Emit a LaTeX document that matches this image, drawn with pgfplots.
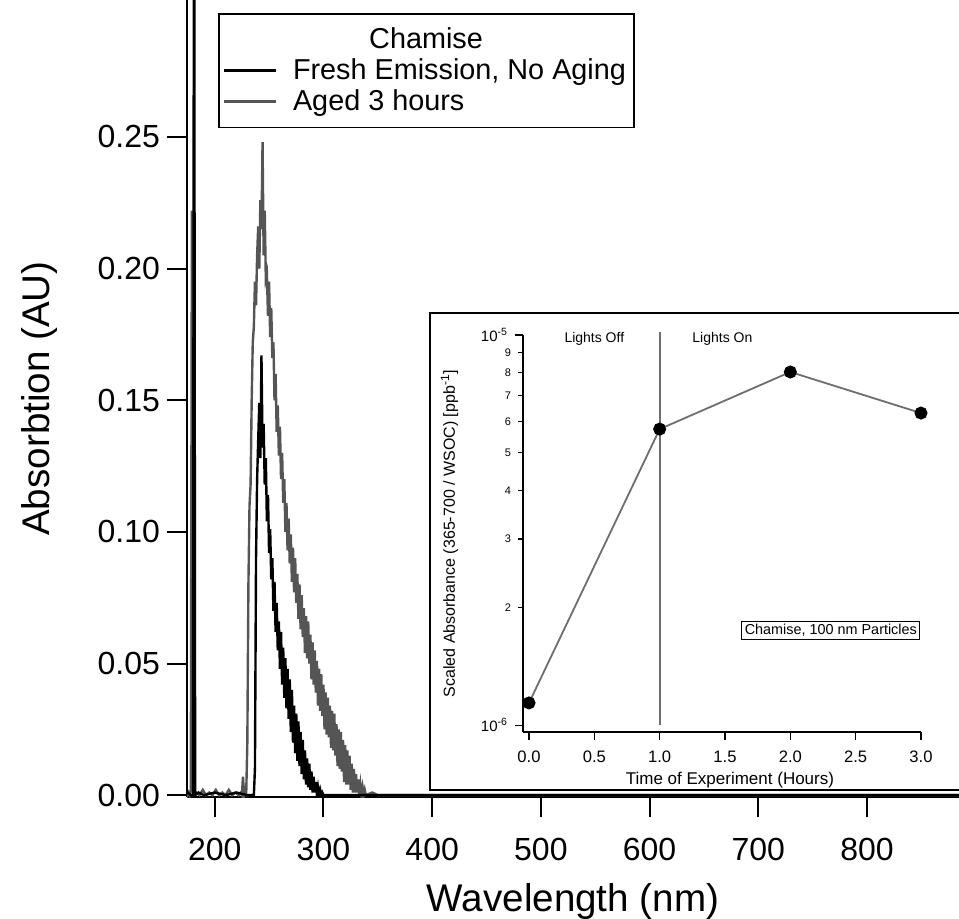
\documentclass[border=0pt]{standalone}
\usepackage{fontspec}
\setmainfont{Liberation Sans}
\usepackage{pgfplots}
\pgfplotsset{compat=1.18}
\definecolor{agedgray}{RGB}{85,85,85}
\definecolor{insetgray}{RGB}{110,110,110}
\begin{document}
\begin{tikzpicture}
\useasboundingbox (-93.5pt,-60.5pt) rectangle (386pt,398.5pt);
\begin{axis}[
  at={(0pt,0pt)}, anchor=south west,
  scale only axis, width=386pt, height=398.5pt,
  xmin=174.5, xmax=884.6, ymin=-0.0007, ymax=0.302,
  axis lines=left, axis line style={line width=1pt,-},
  tick align=outside, major tick length=10pt,
  every tick/.style={line width=1pt, black},
  xtick={200,300,400,500,600,700,800}, ytick={0,0.05,0.10,0.15,0.20,0.25},
  minor tick num=0,
  tick label style={font=\fontsize{16}{16}\selectfont},
  /pgf/number format/assume math mode=true,
  yticklabel style={/pgf/number format/.cd, fixed, fixed zerofill, precision=2},
  xticklabel style={yshift=-7pt, /pgf/number format/.cd, fixed, precision=0},
  xlabel={Wavelength (nm)}, ylabel={Absorbtion (AU)},
  label style={font=\fontsize{19.3}{20}\selectfont},
  xlabel style={at={(axis description cs:0.5,-0.131)}, anchor=center},
  ylabel style={at={(axis description cs:-0.1904,0.5)}, anchor=center},
  legend style={at={(axis description cs:0.0402,0.9837)}, anchor=north west,
    draw=black, line width=0.9pt, font=\fontsize{14.4}{15.5}\selectfont,
    row sep=-0.5pt, inner xsep=2pt, inner ysep=5pt},
  legend cell align=left,
  legend image code/.code={\draw[#1, line width=1.2pt] (0pt,0pt) -- (26pt,0pt); \path (32pt,0pt);},
]
\addlegendimage{empty legend}
\addlegendentry{\hspace*{66.5pt}\makebox[0pt][c]{Chamise}}
\addlegendimage{black}
\addlegendentry{Fresh Emission, No Aging}
\addlegendimage{agedgray}
\addlegendentry{Aged 3 hours}

\addplot[agedgray, line width=1.2pt, forget plot] coordinates {
(172,0.001)(173,0)(174,0.001)(175,0)(176,0.001)(177,0)(178,0.002)(179,0.222)(180,0.001)(181,0)
(183,0.001)(186,0)(189,0.002)(192,0)(195,0.001)(198,0)(201,0.002)(204,0)(207,0.001)(210,0)
(213,0.002)(216,0)(219,0.001)(222,0)(224,0.001)(225,0)(226,0.007)(227,0)(228,0.002)(229,0.001)
(230,0.020)(231,0.080)(232,0.110)(233,0.118)(234,0.150)(235,0.172)(236,0.178)(237,0.195)(238,0.186)(239,0.205)
(240,0.216)(241,0.200)(242,0.226)(243,0.215)(244,0.248)(245,0.205)(246,0.222)(247,0.196)(248,0.198)(249,0.182)
(250,0.195)(251,0.174)(252,0.185)(253,0.166)(254,0.172)(255,0.150)(256,0.160)(257,0.138)(258,0.148)(259,0.129)
(260,0.140)(261,0.120)(262,0.130)(263,0.111)(264,0.120)(265,0.100)(266,0.111)(267,0.093)(268,0.105)(269,0.088)
(270,0.099)(271,0.081)(272,0.094)(273,0.077)(274,0.090)(275,0.073)(276,0.084)(277,0.067)(278,0.080)(279,0.063)
(280,0.076)(281,0.060)(282,0.071)(283,0.054)(284,0.068)(285,0.052)(286,0.066)(287,0.050)(288,0.061)(289,0.044)
(290,0.058)(291,0.042)(292,0.055)(293,0.039)(294,0.051)(295,0.034)(296,0.048)(297,0.032)(298,0.046)(299,0.030)
(300,0.042)(301,0.025)(302,0.039)(303,0.023)(304,0.037)(305,0.022)(306,0.034)(307,0.018)(308,0.032)(309,0.017)
(310,0.031)(311,0.015)(312,0.027)(313,0.011)(314,0.025)(315,0.010)(316,0.024)(317,0.009)(318,0.021)(319,0.005)
(320,0.019)(321,0.004)(322,0.017)(323,0.004)(324,0.015)(325,0.002)(326,0.012)(327,0.001)(328,0.010)(329,0.001)
(330,0.008)(331,0.001)(332,0.006)(333,0)(334,0.004)(335,0)(336,0.003)(337,0)(338,0.002)(339,0)
(345,0.001)(350,0)(400,0)(500,0)(600,0)(700,0)(800,0)(884.6,0)
};
\addplot[black, line width=1.2pt, forget plot] coordinates {
(172,0)(175,0.001)(178,0)(180,0)(181,0.40)(182,0)(185,0.001)(190,0)(200,0.001)(210,0)(220,0.001)(230,0)(236,0)
(237,0.010)(238,0.090)(239,0.120)(240,0.135)(241,0.149)(242,0.128)(243,0.167)(244,0.132)(245,0.141)(246,0.118)
(247,0.128)(248,0.104)(249,0.114)(250,0.092)(251,0.101)(252,0.082)(253,0.090)(254,0.070)(255,0.081)(256,0.062)
(257,0.073)(258,0.055)(259,0.066)(260,0.048)(261,0.062)(262,0.042)(263,0.056)(264,0.037)(265,0.052)(266,0.033)
(267,0.048)(268,0.029)(269,0.044)(270,0.024)(271,0.040)(272,0.020)(273,0.034)(274,0.016)(275,0.031)(276,0.013)
(277,0.028)(278,0.011)(279,0.024)(280,0.008)(281,0.021)(282,0.006)(283,0.017)(284,0.004)(285,0.014)(286,0.003)
(287,0.012)(288,0.002)(289,0.009)(290,0.001)(291,0.007)(292,0.001)(293,0.005)(294,0)(295,0.003)(296,0)
(297,0.002)(298,0)(299,0.001)(300,0)(884.6,0)
};
\end{axis}

\fill[white] (121.5pt,3.5pt) rectangle (386pt,242pt);
\draw[line width=0.8pt] (386pt,242pt) -- (121.5pt,242pt) -- (121.5pt,3.5pt) -- (386pt,3.5pt);

\begin{axis}[
  at={(168pt,32.5pt)}, anchor=south west,
  scale only axis, width=199pt, height=198.5pt,
  ymode=log, xmin=-0.046, xmax=3.0, ymin=9.6e-7, ymax=1e-5,
  clip=false,
  axis lines=left, axis line style={line width=0.8pt,-},
  tick align=outside, major tick length=4pt,
  every tick/.style={line width=0.6pt, black},
  xtick={0,0.5,1,1.5,2,2.5,3},
  ytick={1e-6,1e-5}, yticklabels={10\textsuperscript{-6},10\textsuperscript{-5}},
  yminorticks=false,
  extra y ticks={2e-6,3e-6,4e-6,5e-6,6e-6,7e-6,8e-6,9e-6},
  extra y tick labels={2,3,4,5,6,7,8,9},
  extra y tick style={major tick length=2.5pt, yticklabel style={font=\fontsize{5.5}{5.5}\selectfont}},
  /pgf/number format/assume math mode=true,
  xticklabel style={yshift=-2pt, font=\fontsize{8.3}{8.3}\selectfont, /pgf/number format/.cd, fixed, fixed zerofill, precision=1},
  yticklabel style={font=\fontsize{7.5}{7.5}\selectfont},
  xlabel={Time of Experiment (Hours)},
  ylabel={Scaled Absorbance (365-700 / WSOC) [ppb\textsuperscript{-1}]},
  xlabel style={font=\fontsize{8.5}{8.5}\selectfont, at={(axis description cs:0.52,-0.121)}, anchor=center},
  ylabel style={font=\fontsize{8}{8}\selectfont, at={(axis description cs:-0.1847,0.5)}, anchor=center},
]
\draw[insetgray, line width=0.9pt] (axis cs:1,1e-6) -- (axis cs:1,1.02e-5);
\addplot[insetgray, line width=0.9pt, mark=*, mark options={black, fill=black}, mark size=2.8pt]
  coordinates {(0,1.14e-6) (1,5.74e-6) (2,8.04e-6) (3,6.31e-6)};
\node[font=\fontsize{7}{7}\selectfont] at (axis cs:0.5,9.75e-6) {Lights Off};
\node[font=\fontsize{7}{7}\selectfont] at (axis cs:1.48,9.75e-6) {Lights On};
\node[draw, line width=0.6pt, inner sep=1.5pt, font=\fontsize{7.2}{7.2}\selectfont] at (axis cs:2.31,1.75e-6) {Chamise, 100 nm Particles};
\end{axis}
\end{tikzpicture}
\end{document}
